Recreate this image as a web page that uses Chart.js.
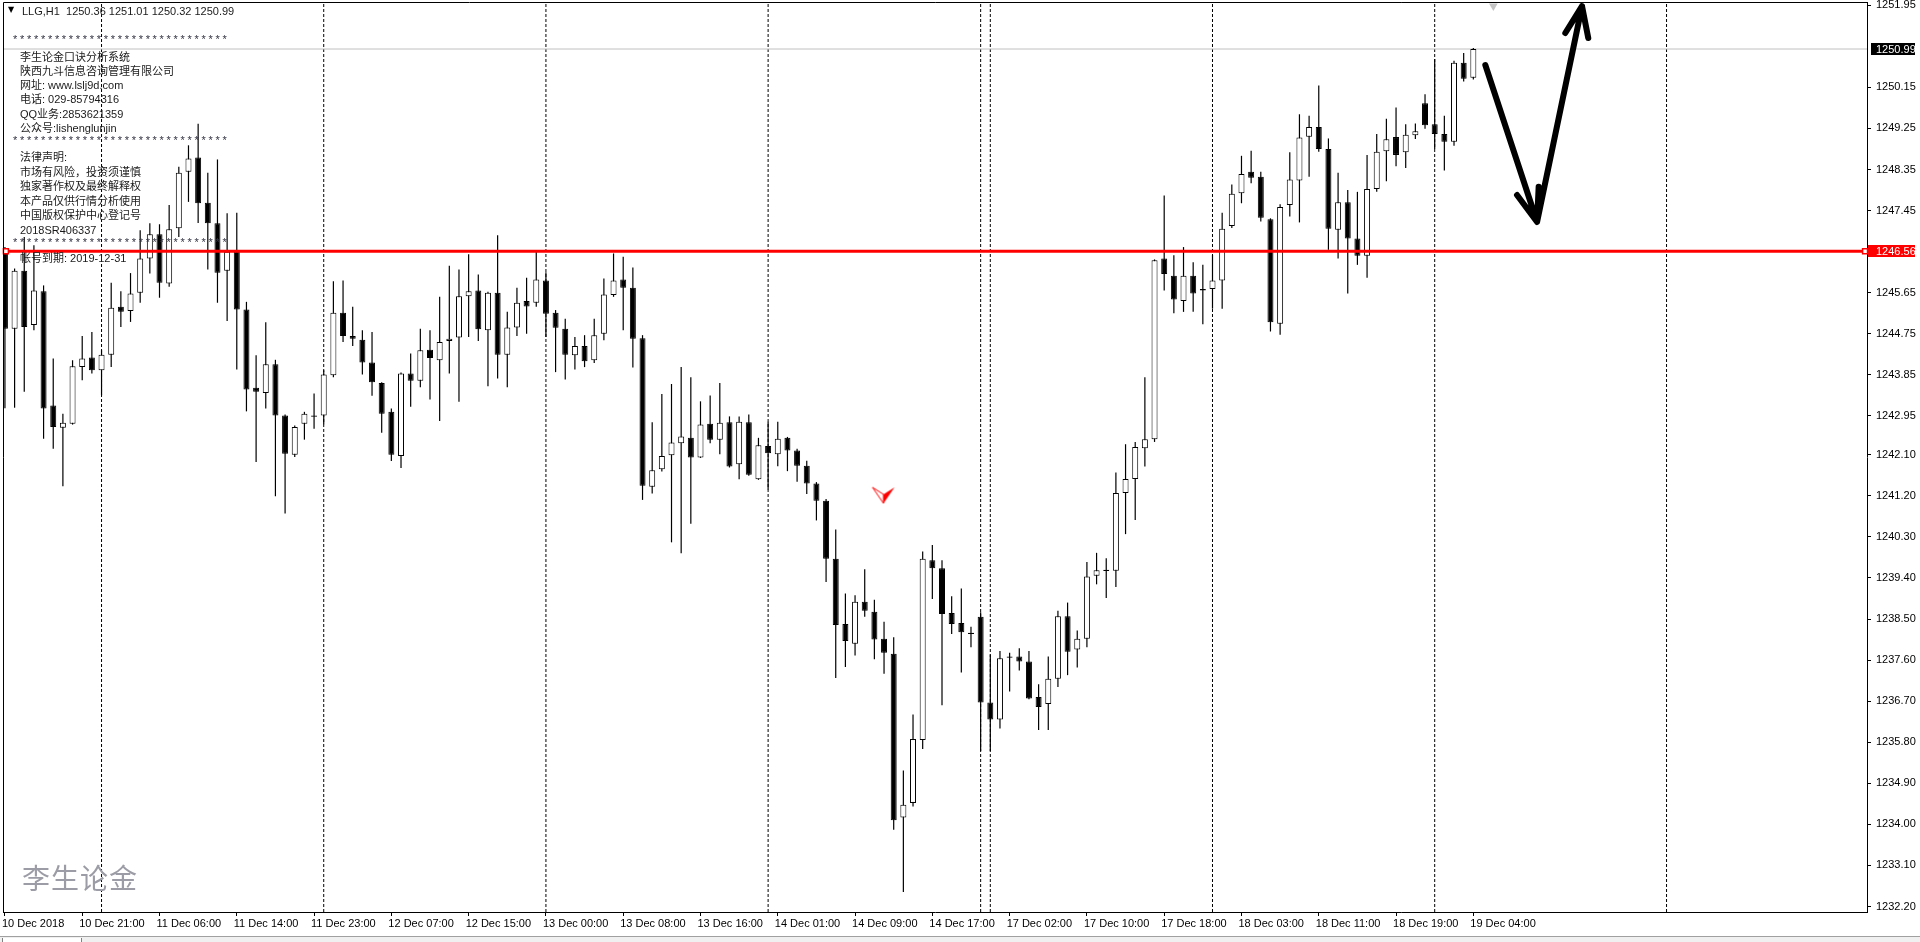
<!DOCTYPE html>
<html>
<head>
<meta charset="utf-8">
<title>LLG,H1</title>
<script src="https://cdn.jsdelivr.net/npm/chart.js@4.4.1/dist/chart.umd.min.js"></script>
<style>
  html, body { margin: 0; padding: 0; background: #fff; overflow: hidden; }
  #wrap { position: relative; width: 1920px; height: 942px; }
  #chart { position: absolute; left: 0; top: 0; }
  .t { position: absolute; left: 20px; font: 11px 'Liberation Sans', 'Noto Sans CJK SC', sans-serif; line-height: 14px; color: #1a1a1a; white-space: pre; }
  .stars { left: 13px; color: #333344; letter-spacing: 2.7px; }
  #tri { position: absolute; left: 8px; top: 5px; font: 8px 'DejaVu Sans'; color: #000; }
  #wm { position: absolute; left: 22px; top: 857px; font: 28px 'Noto Sans CJK SC', sans-serif; color: #9c9ca6; letter-spacing: 1px; }
  #strip { position: absolute; left: 0; top: 936px; width: 1920px; height: 6px; background: #f0f0f0; border-top: 1px solid #a0a0a0; }
  #tab { position: absolute; left: 2px; top: 938px; width: 78px; height: 4px; background: #fff; border-left: 1px solid #808080; border-right: 1px solid #808080; }
</style>
</head>
<body>
<div id="wrap">
  <canvas id="chart" width="1920" height="942"></canvas>
  <div id="tri">▼</div>
  <div class="t" style="left:22px;top:4px">LLG,H1  1250.36 1251.01 1250.32 1250.99</div>
  <div class="t stars" style="top:32px">*******************************</div>
  <div class="t" style="top:50px">李生论金口诀分析系统</div>
  <div class="t" style="top:64px">陕西九斗信息咨询管理有限公司</div>
  <div class="t" style="top:78px">网址: www.lslj9d.com</div>
  <div class="t" style="top:92px">电话: 029-85794316</div>
  <div class="t" style="top:107px">QQ业务:2853621359</div>
  <div class="t" style="top:121px">公众号:lishenglunjin</div>
  <div class="t stars" style="top:133px">*******************************</div>
  <div class="t" style="top:150px">法律声明:</div>
  <div class="t" style="top:165px">市场有风险，投资须谨慎</div>
  <div class="t" style="top:179px">独家著作权及最终解释权</div>
  <div class="t" style="top:194px">本产品仅供行情分析使用</div>
  <div class="t" style="top:208px">中国版权保护中心登记号</div>
  <div class="t" style="top:223px">2018SR406337</div>
  <div class="t stars" style="top:235px">*******************************</div>
  <div class="t" style="top:251px">帐号到期: 2019-12-31</div>
  <div id="wm">李生论金</div>
  <div id="strip"></div>
  <div id="tab"></div>
</div>
<script>
// LLG H1 candles, 10 Dec 2018 - 19 Dec 2018
const opens = [
  1246.52,1244.86,1246.13,1244.94,1245.68,1243.18,1242.69,1242.78,1244.02,1244.23,
  1243.95,1244.29,1245.34,1245.25,1245.65,1246.40,1246.93,1245.85,1247.06,1248.30,
  1248.61,1247.62,1247.17,1246.13,1246.55,1245.28,1243.57,1243.45,1244.08,1242.96,
  1242.10,1242.78,1242.96,1242.96,1243.84,1245.21,1244.70,1244.62,1244.12,1243.67,
  1243.04,1242.07,1243.88,1243.72,1244.40,1244.17,1244.59,1244.67,1245.57,1245.70,
  1244.83,1245.65,1244.29,1244.89,1245.47,1245.43,1245.92,1245.21,1244.86,1244.28,
  1244.48,1244.17,1244.75,1245.60,1245.94,1245.76,1244.65,1241.40,1241.78,1242.09,
  1242.35,1242.47,1242.04,1242.78,1242.43,1242.81,1241.89,1242.81,1241.56,1242.29,
  1242.11,1242.47,1242.19,1241.86,1241.47,1241.09,1239.82,1238.39,1237.96,1238.88,
  1238.66,1238.07,1237.74,1234.15,1234.47,1235.85,1239.79,1239.61,1238.63,1238.41,
  1238.20,1238.55,1236.67,1236.30,1237.65,1237.68,1237.57,1236.79,1236.64,1237.19,
  1238.56,1237.83,1238.07,1239.45,1239.58,1239.56,1241.26,1241.57,1242.24,1242.44,
  1246.40,1246.02,1245.47,1246.02,1245.70,1245.73,1245.92,1247.11,1247.83,1248.30,
  1248.19,1247.26,1244.97,1247.57,1248.11,1249.07,1249.28,1248.80,1247.03,1247.63,
  1246.84,1246.46,1247.92,1248.75,1249.06,1248.73,1249.10,1249.80,1249.34,1249.13,
  1248.96,1250.69,1250.36
];
const highs = [
  1246.65,1246.18,1246.87,1246.69,1245.81,1244.21,1243.00,1244.17,1244.70,1244.79,
  1244.39,1245.87,1245.68,1246.08,1247.02,1247.17,1247.15,1247.57,1248.41,1248.88,
  1249.35,1248.28,1248.57,1247.39,1247.40,1245.45,1244.28,1245.00,1244.18,1242.98,
  1242.74,1243.04,1243.44,1243.95,1245.90,1245.92,1245.34,1244.83,1244.79,1243.69,
  1243.11,1243.90,1244.32,1244.86,1244.83,1245.56,1246.24,1246.16,1246.49,1246.05,
  1245.67,1246.91,1245.23,1245.76,1245.98,1246.55,1246.10,1245.27,1245.08,1244.68,
  1244.72,1245.08,1245.96,1246.51,1246.44,1246.20,1244.72,1242.81,1243.43,1243.65,
  1244.02,1243.80,1243.27,1243.40,1243.67,1242.94,1242.94,1242.98,1242.47,1242.82,
  1242.82,1242.49,1242.23,1241.97,1241.50,1241.13,1240.46,1239.06,1239.02,1239.59,
  1238.92,1238.44,1238.10,1235.18,1236.41,1239.98,1240.12,1239.79,1239.00,1239.17,
  1238.33,1238.65,1237.72,1237.80,1237.76,1237.86,1237.80,1237.07,1237.68,1238.68,
  1238.86,1238.25,1239.75,1239.95,1239.83,1241.71,1242.33,1242.38,1243.80,1246.38,
  1247.78,1246.47,1246.65,1246.32,1246.26,1246.48,1247.40,1248.02,1248.65,1248.76,
  1248.30,1247.28,1247.59,1248.73,1249.56,1249.53,1250.19,1249.03,1248.28,1247.90,
  1247.86,1248.67,1249.13,1249.46,1249.71,1249.34,1249.36,1250.00,1250.77,1249.53,
  1250.73,1250.90,1251.01
];
const lows = [
  1243.12,1243.13,1243.48,1244.83,1242.45,1242.23,1241.41,1242.76,1243.73,1243.88,
  1243.40,1244.02,1244.90,1245.01,1245.43,1246.07,1245.54,1245.78,1246.87,1247.64,
  1247.18,1246.16,1245.43,1245.03,1243.97,1243.05,1241.94,1243.11,1241.19,1240.81,
  1242.05,1242.43,1242.67,1242.77,1243.80,1244.57,1244.48,1243.86,1243.39,1242.58,
  1241.96,1241.81,1243.15,1243.58,1243.31,1242.84,1243.88,1243.26,1244.68,1244.59,
  1243.60,1243.77,1243.58,1244.70,1244.75,1245.34,1244.68,1243.91,1243.75,1243.97,
  1244.02,1244.11,1244.61,1245.56,1244.83,1244.01,1241.11,1241.25,1241.73,1240.18,
  1239.94,1240.59,1242.03,1242.35,1242.11,1241.82,1241.56,1241.64,1241.55,1241.34,
  1241.85,1241.74,1241.51,1241.24,1240.66,1239.31,1237.21,1237.45,1237.70,1238.55,
  1237.62,1237.30,1233.88,1232.52,1234.39,1235.65,1238.94,1236.61,1238.17,1237.33,
  1237.88,1235.61,1235.61,1236.10,1236.91,1237.37,1236.74,1236.07,1236.07,1237.01,
  1237.27,1237.44,1237.88,1239.26,1238.96,1239.20,1240.36,1240.67,1241.84,1242.38,
  1245.70,1245.20,1245.23,1245.23,1244.96,1245.30,1245.30,1247.07,1247.61,1248.05,
  1247.21,1244.80,1244.73,1247.32,1247.19,1248.19,1248.74,1246.59,1246.40,1245.63,
  1246.26,1245.98,1247.86,1248.09,1248.42,1248.38,1249.02,1249.24,1248.80,1248.33,
  1248.87,1250.28,1250.32
];
const closes = [
  1244.86,1246.13,1244.90,1245.70,1243.11,1242.71,1242.80,1244.04,1244.21,1243.95,
  1244.29,1245.32,1245.23,1245.63,1246.40,1246.93,1245.87,1247.04,1248.28,1248.59,
  1247.61,1247.17,1246.09,1246.55,1245.28,1243.53,1243.48,1244.08,1242.96,1242.12,
  1242.71,1243.00,1242.93,1243.86,1245.21,1244.70,1244.64,1244.12,1243.69,1243.00,
  1242.10,1243.88,1243.72,1244.39,1244.22,1244.57,1244.64,1245.57,1245.68,1244.85,
  1245.65,1244.29,1244.89,1245.43,1245.35,1245.94,1245.19,1244.88,1244.29,1244.48,
  1244.15,1244.72,1245.61,1245.92,1245.76,1244.64,1241.42,1241.76,1242.07,1242.37,
  1242.50,1242.04,1242.76,1242.43,1242.80,1241.84,1242.82,1241.66,1242.31,1242.13,
  1242.45,1242.19,1241.86,1241.47,1241.09,1239.82,1238.37,1238.02,1238.88,1238.68,
  1238.05,1237.76,1234.09,1234.43,1235.87,1239.82,1239.61,1238.61,1238.39,1238.21,
  1238.17,1236.67,1236.30,1237.64,1237.68,1237.57,1236.76,1236.57,1237.19,1238.56,
  1237.78,1238.07,1239.43,1239.57,1239.55,1241.26,1241.57,1242.27,1242.44,1246.36,
  1246.06,1245.50,1246.02,1245.63,1245.73,1245.92,1247.05,1247.82,1248.25,1248.17,
  1247.29,1245.00,1247.53,1248.13,1249.05,1249.28,1248.80,1247.05,1247.63,1246.84,
  1246.46,1247.92,1248.74,1249.01,1248.67,1249.11,1249.19,1249.32,1249.13,1248.96,
  1250.69,1250.34,1250.99
];

// time axis: one label every 8 bars
const timeLabels = ['10 Dec 2018','10 Dec 21:00','11 Dec 06:00','11 Dec 14:00','11 Dec 23:00',
  '12 Dec 07:00','12 Dec 15:00','13 Dec 00:00','13 Dec 08:00','13 Dec 16:00','14 Dec 01:00',
  '14 Dec 09:00','14 Dec 17:00','17 Dec 02:00','17 Dec 10:00','17 Dec 18:00','18 Dec 03:00',
  '18 Dec 11:00','18 Dec 19:00','19 Dec 04:00'];
const labelBars = timeLabels.map((_, i) => i * 8);
const priceTicks = [1251.95,1250.15,1249.25,1248.35,1247.45,1245.65,1244.75,1243.85,1242.95,
  1242.10,1241.20,1240.30,1239.40,1238.50,1237.60,1236.70,1235.80,1234.90,1234.00,1233.10,1232.20];
const daySeparators = [10, 33, 56, 79, 101, 102, 125, 148, 172];

const bidPrice = 1250.99;
const levelPrice = 1246.56;     // red horizontal line
const xMin = -0.2, xMax = 192.75;
const yMin = 1232.08, yMax = 1252.02;

// hand drawn V arrow (bar index, price)
const vArrow = [
  {x: 153.24, y: 1250.64}, {x: 158.6, y: 1247.20}, {x: 163.25, y: 1251.93}, {x: 160, y: null},
  {x: 156.52, y: 1247.79}, {x: 158.6, y: 1247.20}, {x: 158.76, y: 1247.97}, {x: 160, y: null},
  {x: 161.52, y: 1251.34}, {x: 163.25, y: 1251.93}, {x: 163.9, y: 1251.23}
];
const redMarker = [{x: 90.94, y: 1241.21}];
const shiftMarker = [{x: 154.07, y: 1251.93}];

const bars = opens.map((_, i) => i);
const bodies = bars.map(i => ({x: i, y: [opens[i], closes[i]]}));
const wicks = bars.map(i => ({x: i, y: [lows[i], highs[i]]}));
const bodyFill = bars.map(i => closes[i] >= opens[i] ? '#ffffff' : '#000000');

const sepData = [];
daySeparators.forEach(s => sepData.push({x: s, y: yMin}, {x: s, y: yMax}, {x: s, y: null}));

function arrowIcon() {
  const c = document.createElement('canvas');
  c.width = 24; c.height = 18;
  const g = c.getContext('2d');
  g.lineWidth = 1;
  g.strokeStyle = '#ff0000';
  g.fillStyle = '#ffffff';
  g.beginPath(); g.moveTo(1, 1); g.lineTo(12, 8); g.lineTo(12, 17); g.closePath(); g.fill(); g.stroke();
  g.fillStyle = '#ff0000';
  g.beginPath(); g.moveTo(23, 1); g.lineTo(12, 8); g.lineTo(12, 17); g.closePath(); g.fill();
  return c;
}

const FONT = {family: 'Liberation Sans', size: 11};

const framePlugin = {
  id: 'frame',
  afterDraw(chart) {
    const {ctx, chartArea: a, scales: {y}} = chart;
    ctx.save();
    ctx.strokeStyle = '#000';
    ctx.lineWidth = 1;
    ctx.beginPath();
    ctx.moveTo(a.left + 0.5, a.bottom);
    ctx.lineTo(a.left + 0.5, a.top + 0.5);
    ctx.lineTo(a.right, a.top + 0.5);
    ctx.stroke();
    // price boxes on the right axis
    ctx.font = '11px "Liberation Sans"';
    ctx.textBaseline = 'middle';
    ctx.textAlign = 'left';
    [[bidPrice, '#000000', a.right + 4], [levelPrice, '#ff0000', a.right + 1]].forEach(([v, col, x0]) => {
      const py = Math.round(y.getPixelForValue(v));
      ctx.fillStyle = col;
      ctx.fillRect(x0, py - 6, chart.width - 5 - x0, 12);
      ctx.fillStyle = '#fff';
      ctx.fillText(v.toFixed(2), a.right + 9, py + 0.5);
    });
    ctx.restore();
  }
};

new Chart(document.getElementById('chart'), {
  type: 'bar',
  data: {
    datasets: [
      { type: 'line', data: vArrow, borderColor: '#000', borderWidth: 6, borderCapStyle: 'round',
        borderJoinStyle: 'round', pointRadius: 0, spanGaps: false, clip: false, order: 0 },
      { type: 'scatter', data: redMarker, pointStyle: arrowIcon(), order: 0 },
      { type: 'scatter', data: shiftMarker, pointStyle: 'triangle', rotation: 180, radius: 5,
        backgroundColor: '#c4c4c4', borderWidth: 0, clip: false, order: 0 },
      { type: 'scatter', data: [{x: 0.1, y: levelPrice}, {x: 192.55, y: levelPrice}], pointStyle: 'rect',
        radius: 3.5, backgroundColor: '#ffffff', borderColor: '#ff0000', borderWidth: 1.5, clip: false, order: 0 },
      { type: 'line', data: [{x: xMin, y: levelPrice}, {x: xMax, y: levelPrice}], borderColor: '#ff0000',
        borderWidth: 3, pointRadius: 0, order: 1 },
      { type: 'bar', data: bodies, backgroundColor: bodyFill, borderColor: '#000', borderWidth: 1,
        borderSkipped: false, barThickness: 6, grouped: false, inflateAmount: 0, order: 2 },
      { type: 'bar', data: wicks, backgroundColor: '#000', borderWidth: 0, barThickness: 1.2,
        grouped: false, inflateAmount: 0, order: 3 },
      { type: 'line', data: [{x: xMin, y: bidPrice}, {x: xMax, y: bidPrice}], borderColor: '#c0c0c0',
        borderWidth: 1, pointRadius: 0, order: 4 },
      { type: 'line', data: sepData, borderColor: '#000', borderWidth: 1, borderDash: [3, 2],
        pointRadius: 0, spanGaps: false, order: 5 }
    ]
  },
  options: {
    responsive: false,
    animation: false,
    events: [],
    layout: { autoPadding: false, padding: { left: 3, top: 2, right: 0, bottom: 0 } },
    plugins: { legend: { display: false }, tooltip: { enabled: false } },
    scales: {
      x: {
        type: 'linear', min: xMin, max: xMax, offset: false, position: 'bottom',
        afterBuildTicks: s => { s.ticks = labelBars.map(v => ({value: v})); },
        afterFit: s => { s.height = 30; s.paddingLeft = 0; s.paddingRight = 0; },
        ticks: { autoSkip: false, maxRotation: 0, align: 'start', padding: 1, labelOffset: -3, color: '#000', font: FONT,
          callback: v => timeLabels[labelBars.indexOf(v)] },
        grid: { drawOnChartArea: false, drawTicks: true, tickLength: 4, color: '#000', offset: false },
        border: { display: true, color: '#000', width: 1 }
      },
      y: {
        type: 'linear', position: 'right', min: yMin, max: yMax, beginAtZero: false,
        afterBuildTicks: s => { s.ticks = priceTicks.map(v => ({value: v})); },
        afterFit: s => { s.width = 53; s.paddingTop = 0; s.paddingBottom = 0; },
        ticks: { padding: 5, color: '#000', font: FONT, callback: v => v.toFixed(2) },
        grid: { drawOnChartArea: false, drawTicks: true, tickLength: 4, color: '#000' },
        border: { display: true, color: '#000', width: 1 }
      }
    }
  },
  plugins: [framePlugin]
});
</script>
</body>
</html>
